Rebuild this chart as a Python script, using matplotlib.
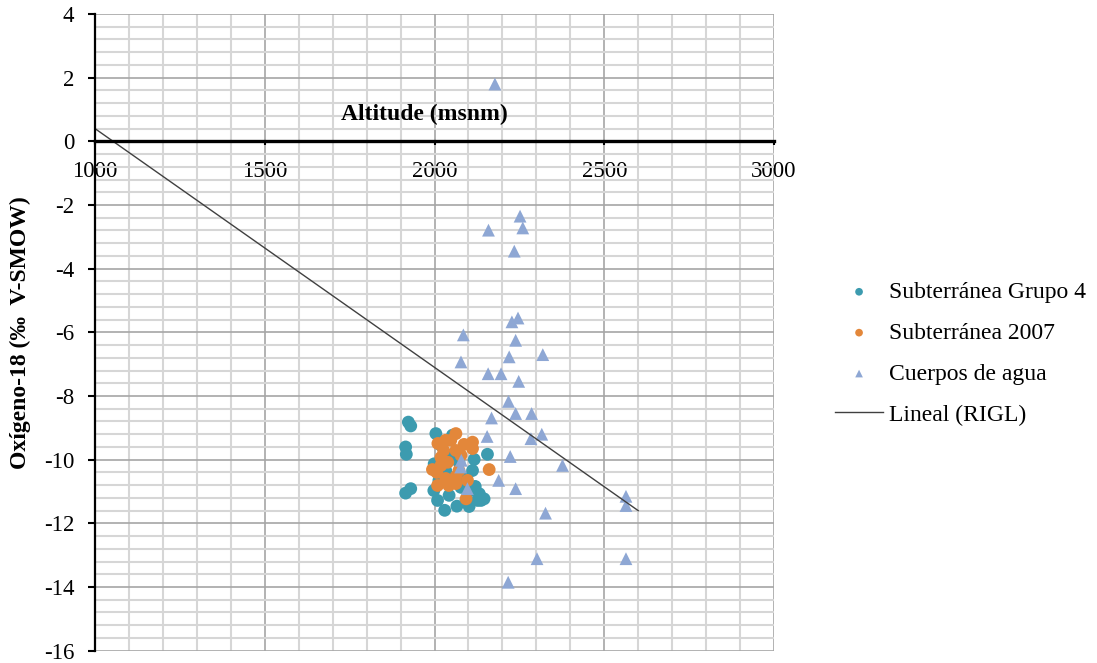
import matplotlib
matplotlib.use("Agg")
import matplotlib.pyplot as plt
from matplotlib.ticker import MultipleLocator
import numpy as np

plt.rcParams['font.family'] = ['Liberation Serif', 'DejaVu Serif']
plt.rcParams['axes.unicode_minus'] = False

# ---- data ----
grupo4_x = [1923, 1930, 2004, 1915, 1917, 2156, 2117, 2112, 1915, 1930, 2009, 2030,
            2066, 2102, 2043, 2120, 2132, 2146, 2127, 1999, 2053, 2019, 2033, 2013,
            2078, 2095, 2107, 1998, 2048, 2072, 2093, 2137]
grupo4_y = [-8.82, -8.94, -9.18, -9.60, -9.83, -9.83, -9.99, -10.34, -11.05, -10.91,
            -11.28, -11.59, -11.46, -11.47, -11.12, -10.84, -11.07, -11.23, -11.28,
            -10.13, -9.23, -9.55, -10.34, -10.65, -10.87, -10.59, -10.97, -10.97,
            -9.86, -10.08, -11.28, -11.28]

sub2007_x = [2063, 2112, 2112, 2010, 2027, 2048, 2019, 2063, 2039, 2078, 1994, 2161,
             2072, 2063, 2033, 2009, 2063, 2093, 2007, 2042, 2097, 2019, 2033, 2087]
sub2007_y = [-9.18, -9.45, -9.65, -9.49, -9.71, -9.39, -9.93, -9.71, -10.08, -9.86,
             -10.31, -10.31, -10.34, -10.53, -10.59, -10.81, -10.75, -11.23, -10.40,
             -10.81, -10.65, -10.18, -9.39, -9.52]

agua_x = [2178, 2252, 2260, 2159, 2235, 2246, 2228, 2085, 2239, 2319, 2220, 2078,
          2158, 2196, 2248, 2218, 2239, 2286, 2168, 2155, 2284, 2316, 2223, 2377,
          2079, 2077, 2189, 2239, 2097, 2564, 2564, 2327, 2302, 2564, 2217]
agua_y = [1.80, -2.35, -2.72, -2.79, -3.45, -5.55, -5.67, -6.08, -6.25, -6.70, -6.77,
          -6.93, -7.30, -7.30, -7.54, -8.17, -8.55, -8.55, -8.69, -9.27, -9.34, -9.20,
          -9.90, -10.18, -10.02, -10.23, -10.65, -10.91, -10.91, -11.15, -11.44,
          -11.68, -13.11, -13.11, -13.85]

rigl_slope = -0.0075
rigl_intercept = 7.9
rigl_range = [1000, 2600]

labels = ["Subterránea Grupo 4", "Subterránea 2007", "Cuerpos de agua", "Lineal (RIGL)"]

# ---- figure ----
fig = plt.figure(figsize=(10.97, 6.63), dpi=100)
ax = fig.add_axes([95/1097, 1 - 650.7/663, (774 - 95)/1097, (650.7 - 14)/663])

teal = "#3C9BAF"
orange = "#E3873A"
tri = "#8EA7D4"

ax.scatter(grupo4_x, grupo4_y, s=85, color=teal, edgecolors='none', zorder=3, label=labels[0])
ax.scatter(sub2007_x, sub2007_y, s=85, color=orange, edgecolors='none', zorder=4, label=labels[1])
ax.scatter(agua_x, agua_y, s=85, marker='^', color=tri, edgecolors='none', zorder=5, label=labels[2])
lx = np.array(rigl_range, dtype=float)
ax.plot(lx, rigl_slope * lx + rigl_intercept, color="#404040", lw=1.0, zorder=6, label=labels[3])

ax.set_xlim(1000, 3000)
ax.set_ylim(-16, 4)
ax.xaxis.set_major_locator(MultipleLocator(500))
ax.xaxis.set_minor_locator(MultipleLocator(100))
ax.yaxis.set_major_locator(MultipleLocator(2))
ax.yaxis.set_minor_locator(MultipleLocator(0.4))

ax.grid(which='minor', color='#D6D6D6', lw=1.5, zorder=0)
ax.grid(which='major', color='#A6A6A6', lw=1.2, zorder=1)
ax.set_axisbelow(True)

ax.spines['top'].set_visible(False)
ax.spines['right'].set_visible(False)
ax.spines['bottom'].set_position(('data', 0))
ax.spines['bottom'].set_linewidth(2.4)
ax.spines['left'].set_linewidth(1.6)
ax.spines['bottom'].set_zorder(7)
ax.spines['left'].set_zorder(7)

ax.tick_params(axis='both', which='minor', length=0)
ax.tick_params(axis='y', which='major', direction='out', length=5, width=1.5, labelsize=16.5, pad=10)
ax.tick_params(axis='x', which='major', direction='out', length=3, width=1.5, labelsize=16.5, pad=11)

ax.text(1970, 0.85, "Altitude (msnm)", ha='center', va='center', fontsize=17, fontweight='bold', zorder=8)
fig.text(0.0185, 0.499, "Oxígeno-18 (‰  V-SMOW)", rotation=90, ha='center', va='center',
         fontsize=17, fontweight='bold')

leg = fig.legend(loc='upper left', bbox_to_anchor=(826/1097, 1 - 272/663), frameon=False,
                 fontsize=17, markerscale=0.6, handlelength=2.0, labelspacing=0.82,
                 handletextpad=0.25, borderaxespad=0)

fig.savefig("out.png", dpi=100)
